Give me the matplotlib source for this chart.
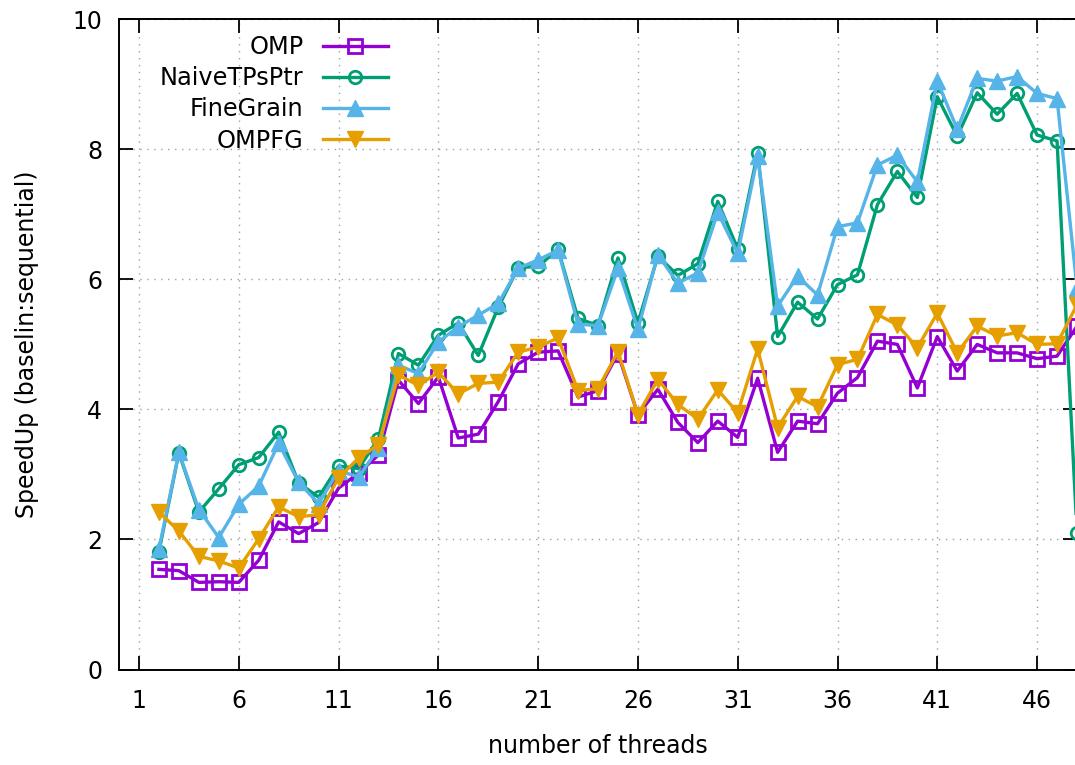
import numpy as np
import matplotlib.pyplot as plt
from matplotlib.ticker import MultipleLocator

plt.rcParams['font.family'] = ['DejaVu Sans']

# speedup per thread count (2..48 threads)
threads = list(range(2, 49))

omp = [1.54, 1.52, 1.34, 1.35, 1.34, 1.68, 2.27, 2.09, 2.26, 2.79,
       3.02, 3.30, 4.45, 4.09, 4.50, 3.56, 3.62, 4.12, 4.70, 4.88,
       4.90, 4.19, 4.29, 4.86, 3.92, 4.31, 3.80, 3.49, 3.82, 3.57,
       4.48, 3.34, 3.82, 3.78, 4.25, 4.49, 5.05, 5.00, 4.33, 5.12,
       4.59, 5.00, 4.87, 4.87, 4.78, 4.82, 5.28]

naive = [1.81, 3.33, 2.42, 2.78, 3.15, 3.26, 3.65, 2.87, 2.65, 3.13,
         3.09, 3.55, 4.86, 4.68, 5.14, 5.33, 4.83, 5.57, 6.18, 6.20,
         6.46, 5.40, 5.29, 6.33, 5.33, 6.36, 6.06, 6.24, 7.20, 6.47,
         7.95, 5.12, 5.65, 5.39, 5.92, 6.07, 7.15, 7.66, 7.26, 8.81,
         8.20, 8.87, 8.54, 8.86, 8.22, 8.13, 2.10]

finegrain = [1.85, 3.34, 2.46, 2.03, 2.54, 2.82, 3.48, 2.88, 2.55, 3.06,
             2.96, 3.40, 4.68, 4.55, 5.04, 5.27, 5.45, 5.63, 6.17, 6.30,
             6.45, 5.31, 5.29, 6.17, 5.23, 6.38, 5.94, 6.10, 7.03, 6.40,
             7.89, 5.59, 6.05, 5.76, 6.81, 6.87, 7.76, 7.91, 7.50, 9.05,
             8.31, 9.09, 9.05, 9.12, 8.86, 8.78, 5.87]

ompfg = [2.42, 2.13, 1.74, 1.67, 1.56, 2.01, 2.50, 2.35, 2.38, 2.95,
         3.25, 3.46, 4.53, 4.37, 4.57, 4.24, 4.40, 4.42, 4.88, 4.96,
         5.10, 4.29, 4.32, 4.89, 3.92, 4.46, 4.08, 3.85, 4.30, 3.95,
         4.93, 3.72, 4.20, 4.04, 4.69, 4.77, 5.46, 5.30, 4.95, 5.48,
         4.87, 5.28, 5.13, 5.18, 5.00, 5.01, 5.61]

fig = plt.figure(figsize=(10.75, 7.65), dpi=100)
ax = fig.add_axes([119 / 1075, (765 - 669.5) / 765, (1077 - 119) / 1075, (669.5 - 19.3) / 765])

lw = 2.4
ax.plot(threads, omp, color='#9400d3', lw=lw, marker='s', ms=9.5,
        mfc='none', mew=2.0, label='OMP')
ax.plot(threads, naive, color='#009e73', lw=lw, marker='o', ms=9,
        mfc='none', mew=2.0, label='NaiveTPsPtr')
ax.plot(threads, finegrain, color='#56b4e9', lw=lw, marker='^', ms=11,
        label='FineGrain')
ax.plot(threads, ompfg, color='#e69f00', lw=lw, marker='v', ms=11,
        label='OMPFG')

ax.set_xlim(0, 48)
ax.set_ylim(0, 10)
ax.set_xticks(range(1, 48, 5))
ax.yaxis.set_major_locator(MultipleLocator(2))
ax.tick_params(direction='in', length=10, width=1.3, labelsize=17,
               top=True, right=True, colors='black')
ax.tick_params(axis='y', pad=12)
ax.tick_params(axis='x', pad=14)
for s in ax.spines.values():
    s.set_linewidth(1.4)

ax.grid(True, color='#a0a0a0', linestyle=(0, (1, 4)), linewidth=1.0)
ax.set_axisbelow(True)

ax.set_xlabel('number of threads', fontsize=17, labelpad=15)
ax.set_ylabel('SpeedUp (baselin:sequential)', fontsize=17, labelpad=24)

ax.legend(loc='upper left', bbox_to_anchor=(160 / 1075, (765 - 35) / 765),
          bbox_transform=fig.transFigure, frameon=False, markerfirst=False,
          fontsize=17.3, handlelength=2.7, handletextpad=0.8,
          labelspacing=0.3, borderpad=0, borderaxespad=0)

fig.savefig('out.png', dpi=100)
